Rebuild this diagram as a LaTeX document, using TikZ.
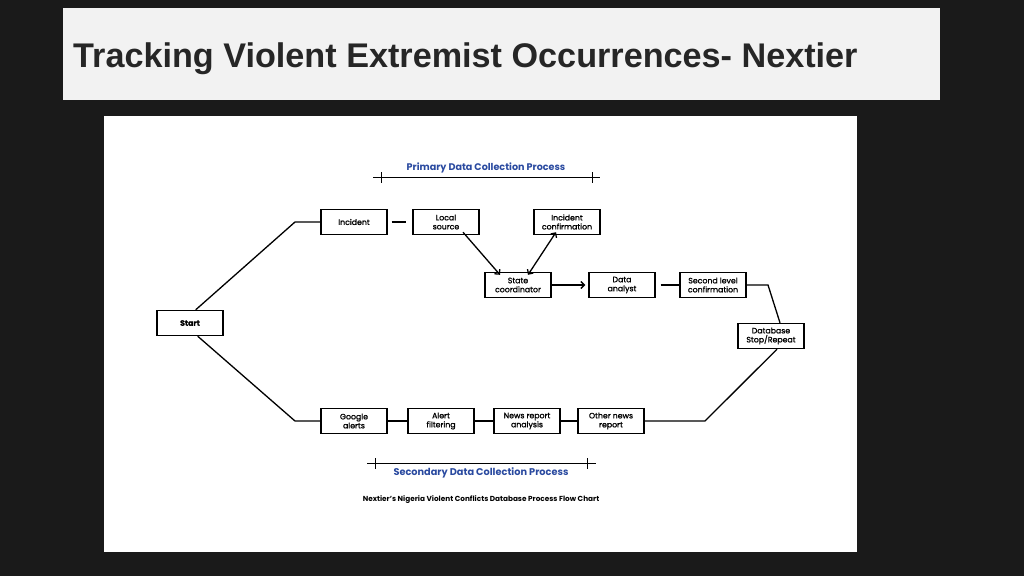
\documentclass[tikz,border=0pt]{standalone}
\usepackage{fontspec}
\setmainfont{Poppins}
\newfontfamily\titlefont{Liberation Sans}
\newfontfamily\semib[FakeBold=1.2]{Poppins}
\usetikzlibrary{arrows.meta}
\definecolor{bg}{HTML}{1A1A1A}
\definecolor{hdr}{HTML}{F2F2F2}
\definecolor{pblue}{HTML}{2A4AA0}
\tikzset{
 box/.style={draw, line width=1.4pt, minimum width=66pt, minimum height=25pt, inner sep=0pt, align=center, font=\semib\fontsize{7.8}{9}\selectfont},
 conn/.style={line width=1.3pt},
 arr/.style={line width=1.3pt, -{Straight Barb[length=3.5pt,width=7pt]}},
 barr/.style={line width=1.3pt, {Straight Barb[length=3.5pt,width=7pt]}-{Straight Barb[length=3.5pt,width=7pt]}},
 lbl/.style={font=\bfseries\fontsize{9.6}{11}\selectfont, text=pblue},
}
\begin{document}
\begin{tikzpicture}[x=1pt,y=-1pt]
\fill[bg] (0,0) rectangle (1024,576);
\useasboundingbox (0,0) rectangle (1024,576);
\fill[hdr] (63,8) rectangle (940,100);
\node[anchor=base west, inner sep=0pt, font=\titlefont\bfseries\fontsize{34.2}{38}\selectfont, text=black!85] (title) at (73,67) {Tracking Violent Extremist Occurrences- Nextier};
\fill[white] (104,116) rectangle (857,552);

\node[box] (start) at (190,323) {\bfseries Start};
\node[box] (inc) at (354,222) {Incident};
\node[box] (loc) at (446,222) {Local\\source};
\node[box] (conf) at (567,222) {Incident\\confirmation};
\node[box] (state) at (518,285) {State\\coordinator};
\node[box] (data) at (622,285) {Data\\analyst};
\node[box] (sec) at (713,285) {Second level\\confirmation};
\node[box] (db) at (771,336) {Database\\Stop/Repeat};
\node[box] (goo) at (354,421) {Google\\alerts};
\node[box] (alf) at (441,421) {Alert\\filtering};
\node[box] (news) at (527,421) {News report\\analysis};
\node[box] (oth) at (611,421) {Other news\\report};

\coordinate (c1) at (295,222);
\coordinate (c2) at (295,421);
\coordinate (c3) at (768,285);
\coordinate (c4) at (705,421);
\draw[conn] (start.north east) ++(-28pt,0) -- (c1) -- (inc.west);
\draw[conn] (start.south east) ++(-26pt,0) -- (c2) -- (goo.west);
\draw[conn] ([xshift=4pt]inc.east) -- ([xshift=-6pt]loc.west);
\draw[arr] ([xshift=17pt,yshift=3pt]loc.south) -- ([xshift=-18pt,yshift=-3pt]state.north);
\draw[barr] ([xshift=10pt,yshift=-3pt]state.north) -- ([xshift=-11pt,yshift=3pt]conf.south);
\draw[arr] (state.east) -- ([xshift=-3pt]data.west);
\draw[conn] ([xshift=5pt]data.east) -- (sec.west);
\draw[conn] (sec.east) -- (c3) -- ([xshift=9pt]db.north);
\draw[conn] ([xshift=6pt]db.south) -- (c4) -- (oth.east);
\draw[conn] (goo) -- (alf) (alf) -- (news) (news) -- (oth);

\node[lbl] (plbl) at (486,168) {Primary Data Collection Process};
\draw[line width=0.9pt] (373,177) -- (600,177) (381,172) -- (381,183) (592,172) -- (592,183);
\node[lbl, font=\bfseries\fontsize{9.75}{11}\selectfont] (slbl) at (481,473) {Secondary Data Collection Process};
\draw[line width=0.9pt] (367,463) -- (596,463) (375,458) -- (375,469) (587,458) -- (587,469);
\node[font=\bfseries\fontsize{7.3}{8}\selectfont] (cap) at (481,500) {Nextier’s Nigeria Violent Conflicts Database Process Flow Chart};
\end{tikzpicture}
\end{document}
